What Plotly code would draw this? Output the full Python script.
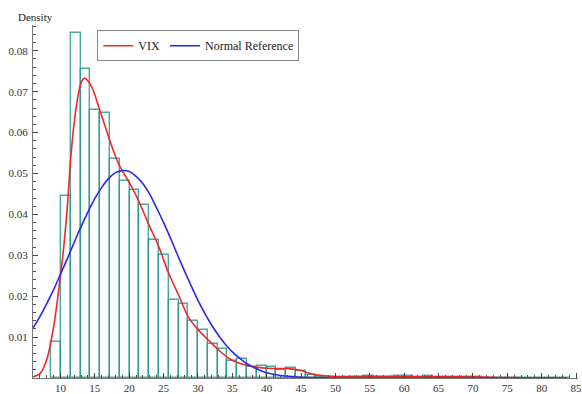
import plotly.graph_objects as go

# ---- data ----
bin_mid = [9.37, 10.80, 12.22, 13.64, 15.07, 16.49, 17.91, 19.34, 20.76, 22.19,
           23.61, 25.03, 26.46, 27.88, 29.30, 30.73, 32.15, 33.57, 35.00, 36.42,
           37.85, 39.27, 40.69, 42.12, 43.54, 44.96, 46.39, 47.81, 49.23, 50.66,
           52.08, 53.51, 54.93, 56.35, 57.78, 59.20, 60.62, 62.05, 63.47, 64.89,
           66.32, 67.74, 69.17, 70.59, 72.01, 73.44, 74.86, 76.28, 77.71, 79.13,
           80.56, 81.98, 83.40]
bin_density = [0.0088, 0.0445, 0.0843, 0.0755, 0.0655, 0.0648, 0.0535, 0.0481, 0.0459, 0.0422,
               0.0337, 0.0300, 0.0190, 0.0180, 0.0139, 0.0117, 0.0082, 0.0070, 0.0042, 0.0046,
               0.0026, 0.0030, 0.0026, 0.0020, 0.0024, 0.0018, 0.0007, 0.0003, 0.0003, 0.0002,
               0.0002, 0.0003, 0.0005, 0.0002, 0.0002, 0.0004, 0.0005, 0.0003, 0.0004, 0.0003,
               0.0002, 0.0002, 0.0003, 0.0002, 0.0001, 0.0001, 0.0001, 0.0, 0.0, 0.0001,
               0.0001, 0.0, 0.0001]
bin_width = 1.4235

kde_x = [6, 7, 8, 9, 10, 10.5, 11, 11.5, 12, 12.5, 13, 13.5, 14, 14.7, 15.6, 16.6, 17.5,
         18.5, 20, 21.4, 22.85, 24.3, 25.74, 27.18, 28.63, 30.07, 31.5, 32.96, 34.4,
         35.85, 37.3, 38.74, 40.2, 41.6, 43.07, 44.5, 45.96, 47.4, 48.8, 50.3, 55, 60,
         65, 70, 75, 80, 83.6]
kde_y = [0.0003, 0.0010, 0.0045, 0.0125, 0.0250, 0.0325, 0.0420, 0.0540, 0.0625, 0.0685,
         0.0722, 0.0733, 0.0726, 0.0706, 0.0661, 0.0610, 0.0565, 0.0522, 0.0478, 0.0432,
         0.0375, 0.0321, 0.0256, 0.0203, 0.0148, 0.0117, 0.0093, 0.0069, 0.0049, 0.0037,
         0.0030, 0.0026, 0.0024, 0.0023, 0.0023, 0.0020, 0.0013, 0.0007, 0.0005, 0.0003,
         0.0004, 0.0003, 0.0003, 0.0003, 0.0001, 0.0, 0.0]

norm_x = [6, 7, 8, 9, 10, 11, 12, 13, 14, 15, 16, 17, 18, 19, 20, 21, 22, 23, 24, 25,
          26, 27, 28, 29, 30, 31, 32, 33, 34, 35, 36, 37, 38, 39, 40, 42, 44, 46, 48,
          50, 60, 70, 83.6]
norm_y = [0.0122, 0.0150, 0.0182, 0.0216, 0.0254, 0.0292, 0.0332, 0.0370, 0.0406, 0.0439,
          0.0466, 0.0488, 0.0502, 0.0507, 0.0505, 0.0493, 0.0475, 0.0449, 0.0415, 0.0380,
          0.0342, 0.0302, 0.0263, 0.0226, 0.0190, 0.0158, 0.0129, 0.0104, 0.0082, 0.0064,
          0.0049, 0.0036, 0.0027, 0.0019, 0.0013, 0.0006, 0.0003, 0.0001, 0.00004,
          0.00001, 0.0, 0.0, 0.0]

x_ticks = [10, 15, 20, 25, 30, 35, 40, 45, 50, 55, 60, 65, 70, 75, 80, 85]
y_ticks = [0.01, 0.02, 0.03, 0.04, 0.05, 0.06, 0.07, 0.08]

SERIF = "Liberation Serif"

fig = go.Figure()
fig.add_trace(go.Bar(
    x=bin_mid, y=bin_density, width=bin_width,
    marker=dict(color="rgba(255,255,255,0)",
                line=dict(color="rgba(45,150,145,0.85)", width=1.4)),
    showlegend=False, hoverinfo="skip"))
fig.add_trace(go.Scatter(
    x=kde_x, y=kde_y, mode="lines", name="VIX",
    line=dict(color="#f02828", width=1.6, shape="spline", smoothing=0.8)))
fig.add_trace(go.Scatter(
    x=norm_x, y=norm_y, mode="lines", name="Normal Reference",
    line=dict(color="#2828f0", width=1.6, shape="spline", smoothing=0.8)))

axis_font = dict(family=SERIF, size=11, color="#333333")
fig.update_layout(
    width=582, height=394,
    margin=dict(l=33, r=0, t=25, b=16),
    paper_bgcolor="white", plot_bgcolor="white",
    bargap=0,
    font=dict(family=SERIF, size=11, color="#333333"),
    xaxis=dict(range=[6.0, 85.29], tickvals=x_ticks, ticktext=[str(v) for v in x_ticks],
               showgrid=False, zeroline=False, showline=True, linecolor="#777777",
               linewidth=1, ticks="inside", ticklen=5, tickcolor="#444444",
               tickfont=axis_font, ticklabelstandoff=0, ticklabeloverflow="allow",
               minor=dict(dtick=1, tick0=0, ticks="inside", ticklen=3,
                          tickcolor="#555555", showgrid=False)),
    yaxis=dict(range=[0, 0.0863], tickvals=y_ticks, ticktext=[f"{v:.2f}" for v in y_ticks],
               showgrid=False, zeroline=False, showline=True, linecolor="#777777",
               linewidth=1, ticks="inside", ticklen=5, tickcolor="#444444",
               tickfont=axis_font, ticklabelstandoff=2,
               minor=dict(dtick=0.002, tick0=0, ticks="inside", ticklen=3,
                          tickcolor="#555555", showgrid=False)),
    legend=dict(orientation="h", x=0.118, y=0.985, xanchor="left", yanchor="top",
                bgcolor="white", bordercolor="#888888", borderwidth=1,
                font=dict(family=SERIF, size=12, color="#222222"),
                itemwidth=30, tracegroupgap=0),
    annotations=[dict(text="Density", xref="paper", yref="paper",
                      x=0.004, y=1.024, xanchor="center", yanchor="middle",
                      showarrow=False, font=dict(family=SERIF, size=11, color="#222222"))],
)

fig.write_html("out.html")
